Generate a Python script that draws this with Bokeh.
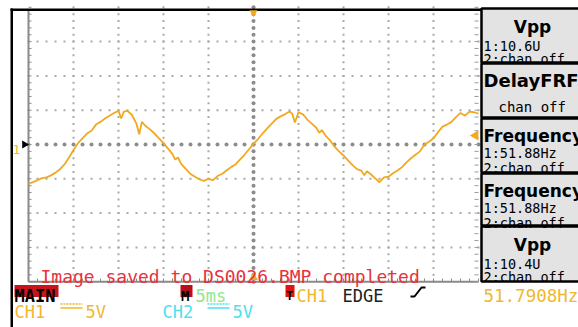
import math
from bokeh.plotting import figure
from bokeh.models import Range1d, Label
from bokeh.embed import file_html
from bokeh.resources import INLINE

time_ms = [0.0, 0.5, 1.0, 1.5, 2.0, 2.5, 3.0, 3.5, 4.0, 4.5, 5.0, 5.5, 6.0, 6.5, 7.0, 7.5,
           8.0, 8.5, 9.0, 9.5, 10.0, 10.3, 10.6, 11.0, 11.5, 12.0, 12.3, 12.6, 13.0, 13.5,
           14.0, 14.5, 15.0, 15.5, 16.0, 16.3, 16.6, 17.0, 17.5, 18.0, 18.5, 19.0, 19.5,
           20.0, 20.5, 21.0, 21.5, 22.0, 22.5, 23.0, 23.5, 24.0, 24.5, 25.0, 25.5, 26.0,
           26.5, 27.0, 27.5, 28.0, 28.5, 29.0, 29.3, 29.6, 30.0, 30.5, 31.0, 31.5, 32.0,
           32.3, 32.6, 33.0, 33.5, 34.0, 34.5, 35.0, 35.5, 36.0, 36.5, 37.0, 37.3, 37.6,
           38.0, 38.5, 39.0, 39.5, 40.0, 40.5, 41.0, 41.5, 42.0, 42.5, 43.0, 43.5, 44.0,
           44.5, 45.0, 45.5, 46.0, 46.5, 47.0, 47.5, 48.0, 48.5, 49.0, 49.5, 50.0]
ch1_volts = [-5.7, -5.5, -5.2, -4.9, -4.8, -4.5, -4.1, -3.6, -2.9, -1.9, -0.8, 0.2, 0.9, 1.6,
             2.0, 2.9, 3.3, 3.8, 4.2, 4.6, 4.9, 3.8, 4.8, 4.9, 4.3, 3.0, 1.5, 3.3, 2.7, 2.2,
             1.6, 0.9, 0.2, -0.6, -1.4, -2.2, -1.9, -2.9, -3.6, -4.3, -4.7, -5.1, -5.3,
             -5.0, -5.2, -4.6, -4.3, -3.8, -3.3, -2.9, -2.2, -1.5, -0.7, 0.1, 0.8, 1.6,
             2.3, 3.0, 3.7, 4.1, 4.4, 4.8, 4.5, 3.2, 4.7, 4.4, 3.6, 3.0, 2.4,
             1.7, 2.1, 1.3, 0.6, -0.3, -1.0, -1.6, -2.3, -3.0, -3.6, -3.8, -4.5, -3.9,
             -4.3, -4.9, -5.5, -4.8, -4.7, -4.2, -3.8, -3.3, -2.6, -2.0, -1.5, -1.0, 0.0,
             0.4, 0.9, 1.8, 2.6, 2.9, 3.3, 4.0, 4.6, 4.2, 4.8, 4.7, 4.5]

time_per_div_ms = 5
volts_per_div = 5
n_div_x = 10
n_div_y = 8
trigger_time_ms = 25
trigger_level_v = 1.3
ch1_offset_v = 0

meas_titles = ["Vpp", "DelayFRF", "Frequency", "Frequency", "Vpp"]
meas_line1 = ["1:10.6U", "", "1:51.88Hz", "1:51.88Hz", "1:10.4U"]
meas_line2 = ["2:chan off", "chan off", "2:chan off", "2:chan off", "2:chan off"]
status_msg = "Image saved to DS0026.BMP completed"
mode_label = "MAIN"
timebase_label = "5ms"
trig_source = "CH1"
trig_mode = "EDGE"
counter_label = "51.7908Hz"
ch1_name, ch1_scale = "CH1", "5V"
ch2_name, ch2_scale = "CH2", "5V"

# ---------------- layout helpers (page pixels -> data units) ----------------
X0, PX_MS = 28.0, 9.0       # page x of t=0, px per ms
Y0, PX_V = 144.0, 6.86      # page y of 0 V, px per volt
W, H = 578, 327


def tx(px):
    return (px - X0) / PX_MS


def vy(py):
    return (Y0 - py) / PX_V


ORANGE = "#f2a91e"
TEXT_ORANGE = "#f0b830"
CYAN = "#4ee0ee"
MONO = "DejaVu Sans Mono"
SANS = "DejaVu Sans"

p = figure(width=W, height=H, output_backend="svg", toolbar_location=None,
           x_range=Range1d(tx(0), tx(W)), y_range=Range1d(vy(H), vy(0)),
           x_axis_location=None, y_axis_location=None, min_border=0)
p.outline_line_color = None
p.background_fill_color = "white"
p.border_fill_color = "white"
p.xgrid.visible = False
p.ygrid.visible = False

t_end = n_div_x * time_per_div_ms
v_top = n_div_y / 2 * volts_per_div
v_bot = -v_top
t_mid = t_end / 2

# ---- dotted graticule ----
gx, gy = [], []
for i in range(1, n_div_x):
    t = i * time_per_div_ms
    if abs(t - t_mid) < 1e-9:
        continue
    for k in range(int(v_bot), int(v_top) + 1):
        gx.append(t)
        gy.append(k)
for j in range(1, n_div_y):
    v = v_bot + j * volts_per_div
    if abs(v) < 1e-9:
        continue
    for k in range(0, int(t_end) + 1):
        gx.append(k)
        gy.append(v)
p.scatter(gx, gy, marker="square", size=2, color="#aaaaaa", line_width=0)

cx, cy = [], []
for k in range(int(v_bot), int(v_top) + 1):
    cx.append(t_mid)
    cy.append(k)
for k in range(0, int(t_end) + 1):
    cx.append(k)
    cy.append(0)
p.scatter(cx, cy, marker="circle", size=4, color="#8c8c8c", line_width=0)

# edges: left / bottom grey lines with ticks
p.segment(x0=[0], y0=[v_bot], x1=[0], y1=[vy(10)], line_color="#8a8a8a", line_width=2)
p.segment(x0=[0], y0=[v_bot], x1=[t_end], y1=[v_bot], line_color="#8a8a8a", line_width=2)
lt = [k for k in range(int(v_bot), int(v_top) + 1)]
p.segment(x0=[0] * len(lt), y0=lt, x1=[tx(31)] * len(lt), y1=lt, line_color="#8a8a8a", line_width=1)
p.segment(x0=[tx(474)] * len(lt), y0=lt, x1=[t_end] * len(lt), y1=lt, line_color="#9a9a9a", line_width=1)
bt = [k for k in range(0, int(t_end) + 1)]
p.segment(x0=bt, y0=[v_bot] * len(bt), x1=bt, y1=[vy(278)] * len(bt), line_color="#8a8a8a", line_width=1)

# ---- waveform ----
p.line(time_ms, ch1_volts, line_color=ORANGE, line_width=1.8)

# ---- black frame ----
p.quad(left=[tx(10)], right=[tx(481)], top=[vy(8)], bottom=[vy(10.5)], color="black", line_width=0)
p.quad(left=[tx(10)], right=[tx(12.5)], top=[vy(8)], bottom=[vy(H)], color="black", line_width=0)

# ---- markers ----
p.scatter([trigger_time_ms], [vy(12)], marker="inverted_triangle", size=8,
          color=ORANGE, line_width=0)
p.scatter([trigger_time_ms], [vy(277)], marker="triangle", size=9, color=ORANGE, line_width=0)
p.scatter([tx(475)], [trigger_level_v], marker="triangle", angle=math.pi / 2, size=10,
          color=ORANGE, line_width=0)
p.scatter([tx(24)], [ch1_offset_v], marker="triangle", angle=-math.pi / 2, size=8,
          color="black", line_width=0)


def lab(text, px, py, size, color, font=MONO, style="normal", align="left"):
    p.add_layout(Label(x=tx(px), y=vy(py), text=text, text_font=font,
                       text_font_size=f"{size}px", text_color=color, text_font_style=style,
                       text_align=align, text_baseline="alphabetic"))


lab("1", 12, 149, 13, TEXT_ORANGE)

# ---- measurement panel ----
box_top = [8, 63, 118, 173, 226]
box_bot = [62, 117, 172, 225, 281]
p.quad(left=[tx(481)] * 5, right=[tx(600)] * 5, top=[vy(t) for t in box_top],
       bottom=[vy(b) for b in box_bot], fill_color="#e3e3e3", line_color="black", line_width=2.5)

for i, title in enumerate(meas_titles):
    t0 = box_top[i]
    if title == "Vpp":
        lab(title, 532, t0 + 18, 17, "black", SANS, "bold", "center")
        lab(meas_line1[i], 483, t0 + 37, 13.5, "black")
        lab(meas_line2[i], 483, t0 + 50.5, 13.5, "black")
    elif meas_line1[i] == "":
        lab(title, 483, t0 + 17, 18, "black", SANS, "bold")
        lab(meas_line2[i], 498, t0 + 43, 14, "black")
    else:
        lab(title, 483, t0 + 17, 17, "black", SANS, "bold")
        lab(meas_line1[i], 483, t0 + 34, 13.5, "black")
        lab(meas_line2[i], 483, t0 + 49, 13.5, "black")

# ---- status message ----
lab(status_msg, 40, 276, 18, "#e8323c")

# ---- bottom status bar ----
p.quad(left=[tx(14), tx(180), tx(285)], right=[tx(58), tx(192), tx(294)],
       top=[vy(284.5)] * 3, bottom=[vy(296.5)] * 3,
       fill_color=["#c8141c", "#b81018", "#e01414"], line_width=0)
lab(mode_label, 14, 295.5, 17, "black", MONO, "bold")
lab("M", 180.5, 295.5, 14, "black", MONO, "bold")
lab(timebase_label, 195, 295.5, 17, "#8ee88e")
lab("T", 285.5, 295.5, 12, "black", MONO, "bold")
lab(trig_source, 296, 295.5, 17, TEXT_ORANGE)
lab(trig_mode, 342, 295.5, 17, "#202020")
p.line([tx(410), tx(414), tx(421), tx(425)], [vy(296), vy(296), vy(287), vy(287)],
       line_color="black", line_width=2)
lab(counter_label, 483, 295.5, 17.5, TEXT_ORANGE)

lab(ch1_name, 14, 311.5, 17, TEXT_ORANGE)
lab(ch2_name, 162, 311.5, 17, CYAN)
for sx, col in [(60, TEXT_ORANGE), (207, CYAN)]:
    p.segment(x0=[tx(sx)], y0=[vy(303.5)], x1=[tx(sx + 22)], y1=[vy(303.5)],
              line_color=col, line_width=1.5, line_dash="2 1")
    p.segment(x0=[tx(sx)], y0=[vy(307.5)], x1=[tx(sx + 22)], y1=[vy(307.5)],
              line_color=col, line_width=1.5)
lab(ch1_scale, 85, 311.5, 17, TEXT_ORANGE)
lab(ch2_scale, 232, 311.5, 17, CYAN)

open("out.html", "w").write(file_html(p, INLINE))
